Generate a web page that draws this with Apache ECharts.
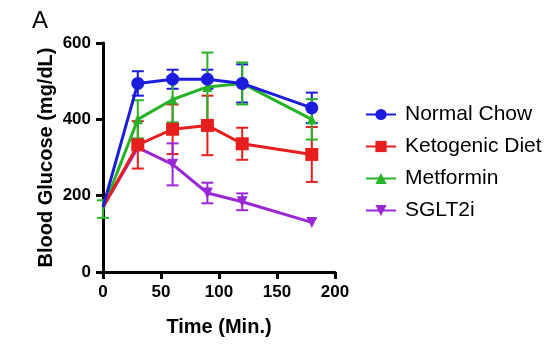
<!DOCTYPE html>
<html>
<head>
<meta charset="utf-8">
<script src="https://cdn.jsdelivr.net/npm/echarts@6/dist/echarts.min.js"></script>
<style>
  html, body { margin: 0; padding: 0; background: #fff; }
  #chart { width: 550px; height: 350px; }
</style>
</head>
<body>
<div id="chart"></div>
<script>
// time points (min)
const times = [0, 30, 60, 90, 120, 180];

// mean blood glucose per group
const normalChow = [170, 494, 505, 505, 494, 430];
const ketogenic = [170, 333, 374, 384, 336, 308];
const metformin = [165, 400, 452, 485, 494, 400];
const sglt2i = [170, 326, 282, 207, 184, 130];

// error bar half-widths
const normalChowErr = [0, 32, 25, 25, 50, 40];
const ketogenicErr = [0, 62, 65, 78, 42, 72];
const metforminErr = [23, 50, 60, 90, 55, 53];
const sglt2iErr = [0, 0, 55, 27, 22, 0];

const xTicks = [0, 50, 100, 150, 200];
const yTicks = [0, 200, 400, 600];

const colors = ['#1c1cdc', '#e61e1e', '#27b327', '#9a27d6'];

const chart = echarts.init(document.getElementById('chart'));

// first point (baseline) is drawn without a marker
function pairs(vals) {
  return times.map((t, i) => i === 0 ? { value: [t, vals[i]], symbol: 'none' } : [t, vals[i]]);
}

function errData(vals, errs) {
  return times.map((t, i) => [t, vals[i] - errs[i], vals[i] + errs[i]]).filter((d, i) => errs[i] > 0);
}

function errSeries(name, vals, errs, color) {
  return {
    type: 'custom',
    name: name + ' err',
    data: errData(vals, errs),
    z: 1,
    silent: true,
    renderItem: function (params, api) {
      const lo = api.coord([api.value(0), api.value(1)]);
      const hi = api.coord([api.value(0), api.value(2)]);
      const w = 6;
      const style = { stroke: color, lineWidth: 2 };
      return {
        type: 'group',
        children: [
          { type: 'line', shape: { x1: lo[0], y1: lo[1], x2: hi[0], y2: hi[1] }, style: style },
          { type: 'line', shape: { x1: lo[0] - w, y1: lo[1], x2: lo[0] + w, y2: lo[1] }, style: style },
          { type: 'line', shape: { x1: hi[0] - w, y1: hi[1], x2: hi[0] + w, y2: hi[1] }, style: style }
        ]
      };
    }
  };
}

function lineSeries(name, vals, color, symbol, size, rotate) {
  return {
    type: 'line',
    name: name,
    data: pairs(vals),
    symbol: symbol,
    symbolSize: size,
    symbolRotate: rotate || 0,
    showAllSymbol: true,
    z: 3,
    lineStyle: { width: 3, color: color },
    itemStyle: { color: color }
  };
}

const font = 'Liberation Sans, Arial, sans-serif';
const tickFont = { fontFamily: font, fontWeight: 'bold', fontSize: 17, color: '#000' };
const titleFont = { fontFamily: font, fontWeight: 'bold', fontSize: 20, color: '#000' };

chart.setOption({
  animation: false,
  grid: { left: 103, right: 215, top: 43, bottom: 78 },
  graphic: [
    { type: 'text', left: 32, top: 9, style: { text: 'A', font: '24px Liberation Sans, Arial, sans-serif', fill: '#000' } }
  ],
  legend: {
    orient: 'vertical',
    left: 360,
    top: 99,
    itemGap: 11,
    itemWidth: 30,
    itemHeight: 14,
    data: ['Normal Chow', 'Ketogenic Diet', 'Metformin', 'SGLT2i'],
    textStyle: { fontFamily: font, fontSize: 21, color: '#000', padding: [0, 0, 0, 4] }
  },
  xAxis: {
    type: 'value',
    min: 0,
    max: 200,
    interval: 50,
    name: 'Time (Min.)',
    nameLocation: 'middle',
    nameGap: 45,
    nameTextStyle: titleFont,
    axisLine: { lineStyle: { color: '#000', width: 3 } },
    axisTick: { length: 7, lineStyle: { width: 3, color: '#000' } },
    axisLabel: Object.assign({ margin: 12, formatter: v => xTicks.includes(v) ? String(v) : '' }, tickFont),
    splitLine: { show: false }
  },
  yAxis: {
    type: 'value',
    min: 0,
    max: 600,
    interval: 200,
    name: 'Blood Glucose (mg/dL)',
    nameLocation: 'middle',
    nameGap: 47,
    nameTextStyle: titleFont,
    axisLine: { show: true, lineStyle: { color: '#000', width: 3 } },
    axisTick: { show: true, length: 7, lineStyle: { width: 3, color: '#000' } },
    axisLabel: Object.assign({ margin: 12, formatter: v => yTicks.includes(v) ? String(v) : '' }, tickFont),
    splitLine: { show: false }
  },
  series: [
    errSeries('Normal Chow', normalChow, normalChowErr, colors[0]),
    errSeries('Ketogenic Diet', ketogenic, ketogenicErr, colors[1]),
    errSeries('Metformin', metformin, metforminErr, colors[2]),
    errSeries('SGLT2i', sglt2i, sglt2iErr, colors[3]),
    lineSeries('SGLT2i', sglt2i, colors[3], 'triangle', 11, 180),
    lineSeries('Metformin', metformin, colors[2], 'triangle', 10),
    lineSeries('Ketogenic Diet', ketogenic, colors[1], 'rect', 13),
    lineSeries('Normal Chow', normalChow, colors[0], 'circle', 13)
  ]
});
</script>
</body>
</html>
